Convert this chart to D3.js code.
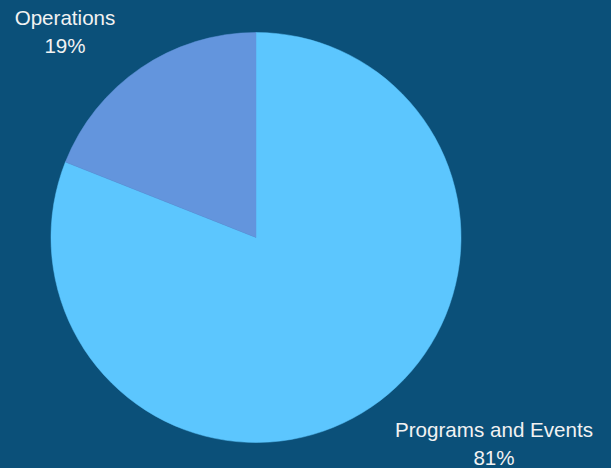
<!DOCTYPE html>
<html>
<head>
<meta charset="utf-8">
<script src="https://cdn.jsdelivr.net/npm/d3@7"></script>
<style>
  html, body { margin: 0; padding: 0; background: #0b5079; }
  svg { display: block; }
</style>
</head>
<body>
<svg id="chart" width="611" height="468"></svg>
<script>
// Budget split
const categories = ["Programs and Events", "Operations"];
const shares = [81, 19];
const colors = ["#5cc6fe", "#6395dd"];

const width = 611, height = 468;
const cx = 256, cy = 237.5, radius = 205;

// Label anchor per category (x centre, first baseline)
const labelAnchors = {
  "Programs and Events": [494, 437],
  "Operations": [65, 25]
};

const data = categories.map((c, i) => ({ name: c, value: shares[i], color: colors[i] }));

const svg = d3.select("#chart");
svg.append("rect").attr("width", width).attr("height", height).attr("fill", "#0b5079");

const pie = d3.pie().value(d => d.value).sort(null);
const arc = d3.arc().innerRadius(0).outerRadius(radius);

const g = svg.append("g").attr("transform", `translate(${cx},${cy})`);
g.selectAll("path")
  .data(pie(data))
  .join("path")
  .attr("d", arc)
  .attr("fill", d => d.data.color)
  .attr("stroke", d => d.data.color)
  .attr("stroke-width", 0.5);

const labels = svg.append("g")
  .attr("font-family", "'Liberation Sans', Arial, sans-serif")
  .attr("font-size", 20.6)
  .attr("fill", "#f2f2f2")
  .attr("text-anchor", "middle");

data.forEach(d => {
  const [x, y] = labelAnchors[d.name];
  const t = labels.append("text").attr("x", x).attr("y", y);
  t.append("tspan").attr("x", x).text(d.name);
  t.append("tspan").attr("x", x).attr("dy", 28).text(d.value + "%");
});
</script>
</body>
</html>
